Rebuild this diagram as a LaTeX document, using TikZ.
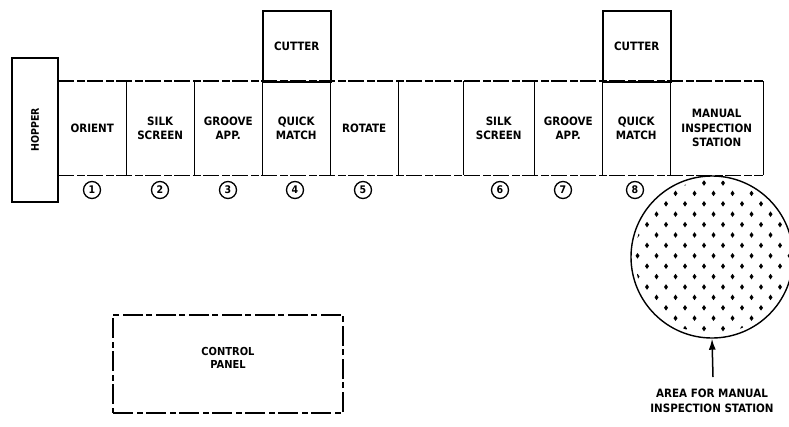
\documentclass[tikz,border=0pt]{standalone}
\usepackage{fontspec}
\setmainfont{DejaVu Sans Condensed}
\usetikzlibrary{arrows.meta}
\tikzset{
  stn/.style={minimum width=68pt, minimum height=94pt, inner sep=1pt, align=center,
              font=\bfseries\fontsize{11.5}{14.5}\selectfont, anchor=north west},
  cutbox/.style={draw, line width=1.5pt, minimum width=68pt, minimum height=71pt,
                 font=\bfseries\fontsize{11.5}{14.5}\selectfont, anchor=north west},
  rail/.style={line width=1.3pt, dash pattern=on 16pt off 3pt on 8pt off 2pt},
  wall/.style={line width=1.7pt},
  num/.style={circle, draw, line width=1.3pt, minimum size=17pt, inner sep=0pt,
              font=\bfseries\fontsize{10.5}{11}\selectfont},
  hopbox/.style={draw, line width=1.7pt, minimum width=144pt, minimum height=46pt,
                 rotate=90, font=\bfseries\fontsize{10.5}{11}\selectfont},
  panelbox/.style={draw, line width=1.1pt, dash pattern=on 20pt off 4pt on 6pt off 3pt,
                   minimum width=230pt, minimum height=98pt},
  ptext/.style={align=center, font=\bfseries\fontsize{11}{13}\selectfont},
  arealbl/.style={align=center, font=\bfseries\fontsize{11.5}{15}\selectfont},
}
\begin{document}
\begin{tikzpicture}[x=1pt,y=-1pt]
  \useasboundingbox (0,0) rectangle (789,426);

  % --- hopper ---
  \node[hopbox] (hopper) at (35,130) {HOPPER};

  % --- stations along the conveyor ---
  \node[stn] (orient) at (58,81)  {ORIENT};
  \node[stn] (silkA)  at (126,81) {SILK\\SCREEN};
  \node[stn] (grvA)   at (194,81) {GROOVE\\APP.};
  \node[stn] (qmA)    at (262,81) {QUICK\\MATCH};
  \node[stn] (rotate) at (330,81) {ROTATE};
  \node[stn, minimum width=65pt] (blank) at (398,81) {};
  \node[stn, minimum width=71pt] (silkB) at (463,81) {SILK\\SCREEN};
  \node[stn] (grvB)   at (534,81) {GROOVE\\APP.};
  \node[stn] (qmB)    at (602,81) {QUICK\\MATCH};
  \node[stn, minimum width=93pt] (manual) at (670,81) {MANUAL\\INSPECTION\\STATION};

  % --- cutters ---
  \node[cutbox] (cutA) at (262,10) {CUTTER};
  \node[cutbox] (cutB) at (602,10) {CUTTER};

  % --- conveyor edges and walls ---
  \draw[rail] (orient.north west) -- (manual.north east);
  \draw[rail] (orient.south west) -- (manual.south east);
  \foreach \s in {orient,silkA,grvA,qmA,rotate,blank,silkB,grvB,qmB,manual}
    \draw[wall] (\s.north east) -- (\s.south east);

  % --- station numbers ---
  \node[num] (n1) at (92,190)  {1};
  \node[num] (n2) at (160,190) {2};
  \node[num] (n3) at (228,190) {3};
  \node[num] (n4) at (295,190) {4};
  \node[num] (n5) at (363,190) {5};
  \node[num] (n6) at (500,190) {6};
  \node[num] (n7) at (563,190) {7};
  \node[num] (n8) at (635,190) {8};

  % --- area for manual inspection ---
  \node[circle, draw, line width=1.4pt, minimum size=162pt, inner sep=0pt] (area) at (712,257) {};
  \begin{scope}
    \clip (area.center) circle (77pt);
    \foreach \r in {0,...,16}
      \foreach \c in {0,...,9} {
        \pgfmathsetmacro{\dx}{628 + 19*\c + 9.5*mod(\r,2)}
        \pgfmathsetmacro{\dy}{183 + 10.4*\r}
        \fill (\dx,\dy) +(0,-2.8) -- +(2,0) -- +(0,2.8) -- +(-2,0) -- cycle;
      }
  \end{scope}
  \coordinate (tail) at (713,377);
  \draw[line width=1.5pt, -{Latex[length=11pt,width=7pt]}] (tail) -- (area.south);
  \node[arealbl] (arealabel) at (712,401) {AREA FOR MANUAL\\INSPECTION STATION};

  % --- control panel ---
  \node[panelbox] (panel) at (228,364) {};
  \node[ptext] (paneltext) at (228,358) {CONTROL\\PANEL};
\end{tikzpicture}
\end{document}
